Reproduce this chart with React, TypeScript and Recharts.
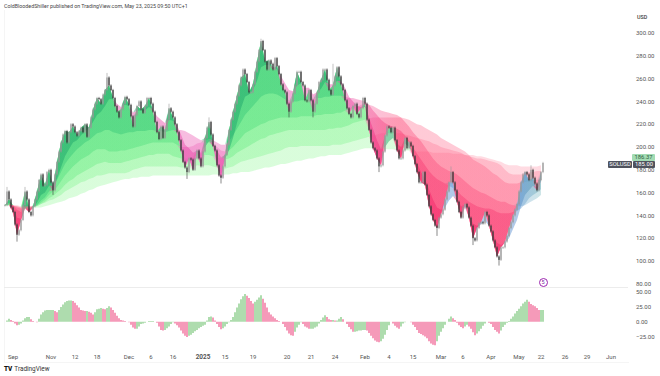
import React from 'react';
import { Area, Bar, Cell, ComposedChart, XAxis, YAxis } from 'recharts';

// closes, one every 2px of the picture, in USD
const closes = [
  149,161,154,147,143,132,123,127,136,149,
  161,154,143,140,148,154,161,171,176,166,
  167,178,180,169,162,176,187,196,204,211,
  214,204,213,220,218,213,210,214,217,213,
  220,209,217,226,233,238,243,242,238,246,
  250,261,254,250,243,236,231,226,233,238,
  244,242,237,227,218,228,236,240,233,230,
  236,243,243,238,231,222,213,207,218,208,
  215,224,234,231,226,220,213,206,197,187,
  182,178,190,189,180,190,197,190,183,196,
  208,217,222,211,201,197,184,175,173,183,
  193,202,215,224,231,238,245,254,261,268,
  264,257,248,248,255,266,275,285,293,285,
  275,268,276,273,268,278,271,264,255,250,
  248,238,231,240,247,254,266,266,257,254,
  241,240,250,241,231,238,248,257,259,268,
  268,259,250,246,254,262,270,262,255,250,
  241,234,229,226,236,238,229,226,234,243,
  238,224,215,204,199,197,190,183,184,196,
  210,218,217,213,217,206,197,190,190,197,
  208,199,204,201,192,185,178,169,169,178,
  167,158,148,141,136,131,129,138,141,145,
  154,161,169,178,169,162,152,143,138,147,
  150,147,138,131,120,118,129,133,134,133,
  143,140,131,126,118,112,104,101,112,112,
  117,122,129,134,140,145,150,161,169,176,
  178,176,171,180,173,168,162,171,178,186,
];

// longer wicks at the swing points: candle index -> price
const wickLows: Record<number, number> = { 6: 117, 24: 158, 91: 172, 108: 168, 142: 226, 154: 226, 187: 178, 216: 122, 234: 114, 247: 96 };
const wickHighs: Record<number, number> = { 1: 165, 10: 165, 51: 265, 82: 238, 102: 226, 128: 295, 164: 273, 223: 183, 263: 184 };

// moving averages, one every 4px, fastest first
const ema1 = [
  149,151,148,138,137, 146,145,146,151,158, 160,166,166,172,182, 192,198,204,206,210, 214,216,222,228,231,
  236,242,242,238,235, 237,236,230,232,232, 232,235,233,227,224, 221,224,223,219,211, 202,199,195,196,195,
  200,205,204,197,191, 190,197,208,221,234, 244,246,250,258,270, 272,272,270,268,262, 256,250,249,254,256,
  252,252,246,248,251, 257,255,255,258,258, 252,244,240,236,235, 235,226,216,206,198, 200,205,208,203,200,
  203,200,194,186,178, 172,163,154,147,145, 147,153,157,155,148, 147,141,133,131,132, 135,131,124,116,114,
  116,120,128,136,148, 158,162,166,165,170,
];
const ema2 = [
  149,150,149,145,143, 146,146,147,149,153, 156,161,165,171,178, 185,190,194,198,201, 204,206,209,212,213,
  215,215,213,212,211, 212,213,213,214,214, 214,215,215,214,214, 213,214,215,215,215, 214,212,210,208,206,
  206,207,206,204,202, 202,205,210,216,222, 228,232,236,240,244, 246,247,247,246,244, 242,240,240,240,241,
  241,242,242,243,243, 244,244,245,245,245, 244,243,243,242,241, 240,237,232,228,224, 221,219,218,216,214,
  210,206,200,194,189, 184,179,175,172,170, 168,166,164,162,158, 155,152,150,148,147, 146,146,145,143,142,
  142,142,143,144,146, 150,155,158,160,163,
];
const ema3 = [
  149,149,149,147,146, 147,147,148,149,151, 154,158,161,165,170, 175,179,183,186,189, 191,193,196,198,198,
  198,196,196,196,197, 197,198,199,200,201, 202,203,204,204,204, 204,204,204,202,200, 200,200,201,203,204,
  204,204,203,200,197, 196,197,200,204,208, 212,214,216,218,220, 221,223,224,225,226, 226,226,226,226,227,
  227,227,227,228,228, 229,229,229,230,230, 232,233,234,235,237, 238,237,236,234,232, 231,230,229,228,226,
  222,218,213,209,205, 200,195,190,186,183, 181,179,178,176,173, 170,167,164,162,160, 159,157,155,153,152,
  152,150,149,148,148, 149,151,153,155,158,
];
const ema4 = [
  149,149,149,148,147, 148,148,148,148,150, 152,155,157,160,163, 167,170,172,175,177, 179,181,183,185,186,
  187,186,186,186,186, 187,188,189,190,191, 192,193,193,194,194, 194,194,192,191,190, 190,190,191,192,193,
  193,193,192,191,190, 189,190,192,195,197, 199,201,203,205,207, 208,210,211,212,213, 214,215,215,215,215,
  215,215,215,215,215, 215,216,216,217,217, 218,219,221,222,223, 224,225,226,226,226, 226,226,226,226,226,
  225,224,222,220,219, 217,215,213,211,208, 206,204,202,200,198, 196,193,189,187,185, 183,180,177,175,172,
  169,168,168,168,169, 169,170,170,171,172,
];
const ema5 = [
  149,149,149,149,148, 148,148,148,148,150, 151,153,154,156,158, 161,163,165,167,169, 170,172,173,175,175,
  176,177,177,177,177, 177,178,180,181,182, 183,183,183,183,183, 183,183,183,183,182, 182,183,183,184,184,
  184,184,183,182,181, 181,182,183,185,187, 188,189,190,191,192, 193,194,195,196,197, 199,200,200,200,201,
  201,201,201,201,201, 201,201,202,202,202, 203,204,205,206,207, 208,209,210,211,212, 212,212,212,212,212,
  211,210,209,208,207, 206,205,203,202,200, 199,198,197,196,195, 193,192,191,190,190, 189,188,187,186,184,
  180,177,176,176,176, 177,178,178,179,179,
];
const ema6 = [
  149,149,148,148,147, 147,147,147,147,147, 148,149,150,151,152, 153,155,156,157,159, 160,162,163,165,166,
  167,168,169,170,171, 172,172,173,173,174, 174,174,175,175,175, 175,175,175,175,175, 175,175,175,175,175,
  175,175,176,176,176, 176,176,177,177,178, 178,178,179,180,181, 182,182,183,184,185, 185,186,187,188,188,
  189,190,190,191,192, 192,193,193,193,193, 194,195,196,197,198, 199,199,199,199,198, 198,198,198,198,197,
  197,197,197,196,196, 196,196,195,195,195, 195,195,194,194,194, 193,193,193,192,192, 191,190,189,188,187,
  185,184,184,184,183, 183,183,183,183,184,
];
const emas = [ema6, ema5, ema4, ema3, ema2, ema1];

// oscillator, one bar per candle
const oscillator = [
  0,2,5,3,1,-3,-6,-5,-3,2,
  6,8,8,4,1,0,-1,5,12,16,
  19,20,20,20,20,18,16,20,25,29,
  33,35,36,36,35,32,28,24,20,19,
  18,18,17,15,12,16,21,22,23,22,
  21,23,26,24,20,15,10,6,3,2,
  1,0,-1,-5,-10,-12,-12,-8,-4,-3,
  -2,0,1,1,1,0,-2,-8,-14,-15,
  -14,-11,-8,-4,-1,-3,-6,-10,-15,-20,
  -24,-26,-24,-22,-19,-16,-14,-11,-9,-7,
  -5,2,8,9,7,2,-4,-9,-13,-11,
  -8,-4,-1,3,8,16,24,31,38,43,
  47,44,40,35,31,34,37,41,45,39,
  32,24,16,12,9,6,3,1,0,-4,
  -9,-15,-20,-23,-24,-17,-10,-5,-1,-4,
  -8,-10,-12,-12,-12,-10,-8,-3,3,7,
  11,8,4,3,3,2,2,5,8,4,
  0,-4,-9,-13,-17,-17,-16,-15,-15,-14,
  -14,-15,-19,-24,-28,-32,-34,-35,-33,-29,
  -22,-14,-6,0,-3,-7,-10,-12,-8,-3,
  -1,0,0,-1,-5,-9,-14,-19,-21,-23,
  -25,-28,-33,-37,-39,-40,-33,-24,-17,-11,
  -5,0,5,9,6,3,-2,-6,-9,-11,
  -8,-5,-8,-12,-18,-23,-20,-16,-12,-7,
  -3,0,-2,-4,-9,-14,-17,-20,-15,-9,
  -5,-2,1,5,9,14,18,22,26,31,
  34,37,34,30,28,26,23,20,20,20,
];

const priceTicks = [80, 100, 120, 140, 160, 180, 200, 220, 240, 260, 280, 300];
const oscTicks = [-25, 0, 25, 50];
const timeLabels = ['Sep', 'Nov', '12', '18', 'Dec', '6', '16', '2025', '15', '19', '20', '21', '24', 'Feb', '4', '15', 'Mar', '6', 'Apr', 'May', '22', '26', '29', 'Jun'];
const timeSlots = [4, 23, 35, 46, 62, 73, 84, 99, 110, 124, 141, 153, 165, 180, 192, 204, 218, 229, 243, 257, 268, 280, 291, 303];

const FONT = 'Roboto, "Liberation Sans", sans-serif';
const SLOTS = 312;

const upGreen = ['#62f56a', '#58f06c', '#4ce66e', '#3cd872', '#2ac072', '#18a068'];
const upBlue = ['#a3c8ea', '#8fbae6', '#7dade2', '#6ca0dc', '#5c93d5', '#4e86cc'];
const upTeal = ['#a8e2cc', '#94d5c4', '#82c8bc', '#70b9b2', '#60aaa8', '#529b9c'];
const downRed = ['#ff6a88', '#ff5c80', '#ff4f78', '#fb3f72', '#f7306c', '#f22066'];
const downPink = ['#f78fd0', '#f582c9', '#f274c2', '#ee62b8', '#ea50ae', '#e640a4'];
const layerOpacity = [0.24, 0.26, 0.3, 0.34, 0.38, 0.44];

const priceRows = Array.from({ length: SLOTS }, (_, i) => {
  const row: Record<string, any> = { slot: i };
  if (i >= closes.length) return row;
  const close = closes[i];
  const open = i > 0 ? closes[i - 1] : close;
  row.open = open;
  row.close = close;
  row.wick = [wickLows[i] ?? Math.min(open, close) - 1, wickHighs[i] ?? Math.max(open, close) + 1];
  if (i % 2 === 0) {
    emas.forEach((ema, k) => {
      const e = ema[i / 2];
      row[`above${k}`] = [e, Math.max(close, e)];
      row[`below${k}`] = [Math.min(close, e), e];
    });
  }
  return row;
});

const oscRows = Array.from({ length: SLOTS }, (_, i) => ({ slot: i, value: oscillator[i] }));

const Candle = (props: any) => {
  const { x, y, width, height, payload } = props;
  if (payload.close === undefined || !height) return null;
  const [low, high] = payload.wick;
  const perUnit = height / (high - low);
  const top = y + (high - Math.max(payload.open, payload.close)) * perUnit;
  const bodyH = Math.max(Math.abs(payload.close - payload.open) * perUnit, 1);
  const color = payload.close >= payload.open ? '#989898' : '#3a3a3a';
  return (
    <g>
      <line x1={x + width / 2} x2={x + width / 2} y1={y} y2={y + height} stroke={color} strokeWidth={0.6} />
      <rect x={x + 0.4} y={top} width={width - 0.8} height={bodyH} fill={color} />
    </g>
  );
};

const TimeTick = (props: any) => {
  const { x, y, payload } = props;
  const label = timeLabels[timeSlots.indexOf(payload.value)];
  return (
    <text x={x} y={y + 3} textAnchor="middle" fontSize={label === '2025' ? 6.4 : 6} fontWeight={label === '2025' ? 700 : 400} fill="#555" fontFamily={FONT}>
      {label}
    </text>
  );
};

const tag = (left: number, top: number, width: number, bg: string, color: string, text: string) => (
  <div style={{ position: 'absolute', left, top, width, height: 6.5, lineHeight: '6.5px', background: bg, color, fontSize: 5.8, textAlign: 'center', borderRadius: 1 }}>
    {text}
  </div>
);

export default function App() {
  return (
    <div style={{ position: 'absolute', left: 0, top: 0, width: 660, height: 376, background: '#fff', overflow: 'hidden', fontFamily: FONT }}>
      <div style={{ position: 'absolute', left: 4, top: 3, fontSize: 5.3, color: '#444', whiteSpace: 'nowrap' }}>
        ColdBloodedShiller published on TradingView.com, May 23, 2025 09:50 UTC+1
      </div>
      <div style={{ position: 'absolute', left: 637, top: 14, fontSize: 5.4, color: '#444', fontWeight: 500 }}>USD</div>
      <div style={{ position: 'absolute', left: 4, top: 10, width: 624, height: 352, borderLeft: '1px solid #f5f5f5', borderBottom: '1px solid #f5f5f5' }} />
      <div style={{ position: 'absolute', left: 4, top: 287, width: 624, height: 1, background: '#ececec' }} />

      <div style={{ position: 'absolute', left: 0, top: 0 }}>
        <ComposedChart width={660} height={287} data={priceRows} margin={{ top: 10, right: 0, bottom: 0, left: 4 }} barCategoryGap={0}>
          <defs>
            {emas.map((_, k) => (
              <linearGradient key={`up${k}`} id={`up${k}`} gradientUnits="userSpaceOnUse" x1="4" y1="0" x2="628" y2="0">
                <stop offset="0.68" stopColor={upGreen[k]} />
                <stop offset="0.70" stopColor={upBlue[k]} />
                <stop offset="0.82" stopColor={upBlue[k]} />
                <stop offset="0.87" stopColor={upTeal[k]} />
              </linearGradient>
            ))}
            {emas.map((_, k) => (
              <linearGradient key={`down${k}`} id={`down${k}`} gradientUnits="userSpaceOnUse" x1="4" y1="0" x2="628" y2="0">
                <stop offset="0.05" stopColor={downRed[k]} />
                <stop offset="0.09" stopColor={downPink[k]} />
                <stop offset="0.54" stopColor={downPink[k]} />
                <stop offset="0.63" stopColor={downRed[k]} />
              </linearGradient>
            ))}
          </defs>
          <XAxis dataKey="slot" hide />
          <YAxis
            orientation="right"
            width={32}
            domain={[77.2, 320.2]}
            ticks={priceTicks}
            interval={0}
            tickFormatter={(v: number) => v.toFixed(2)}
            tick={{ fontSize: 6, fill: '#555', fontFamily: FONT }}
            tickLine={false}
            axisLine={false}
            tickSize={0}
            tickMargin={8}
          />
          {emas.map((_, k) => (
            <Area key={`a${k}`} dataKey={`above${k}`} fill={`url(#up${k})`} fillOpacity={layerOpacity[k]} stroke="none" connectNulls dot={false} activeDot={false} isAnimationActive={false} />
          ))}
          {emas.map((_, k) => (
            <Area key={`b${k}`} dataKey={`below${k}`} fill={`url(#down${k})`} fillOpacity={layerOpacity[k]} stroke="none" connectNulls dot={false} activeDot={false} isAnimationActive={false} />
          ))}
          <Bar dataKey="wick" shape={<Candle />} isAnimationActive={false} />
        </ComposedChart>
      </div>

      <div style={{ position: 'absolute', left: 0, top: 288 }}>
        <ComposedChart width={660} height={88} data={oscRows} margin={{ top: 0, right: 0, bottom: 14, left: 4 }} barCategoryGap={0}>
          <XAxis
            dataKey="slot"
            height={14}
            ticks={timeSlots}
            interval={0}
            tick={<TimeTick />}
            tickLine={false}
            axisLine={false}
          />
          <YAxis
            orientation="right"
            width={32}
            domain={[-44.6, 57.1]}
            ticks={oscTicks}
            interval={0}
            tickFormatter={(v: number) => v.toFixed(2).replace('-', '\u2212')}
            tick={{ fontSize: 6, fill: '#555', fontFamily: FONT }}
            tickLine={false}
            axisLine={false}
            tickSize={0}
            tickMargin={8}
          />
          <Bar dataKey="value" isAnimationActive={false}>
            {oscRows.map((r, i) => (
              <Cell key={i} fill={i > 0 && (r.value ?? 0) >= (oscRows[i - 1].value ?? 0) ? '#aedcae' : '#f59ab9'} />
            ))}
          </Bar>
        </ComposedChart>
      </div>

      {tag(632, 154, 23, '#a3dcb4', '#2f5f3f', '186.37')}
      {tag(608, 161, 24, '#50535e', '#fff', 'SOLUSD')}
      {tag(633, 161, 22, '#50535e', '#fff', '185.00')}

      <div style={{ position: 'absolute', left: 538.5, top: 278, width: 7, height: 7, border: '1px solid #9c27b0', borderRadius: '50%', color: '#7b1fa2', fontSize: 5.5, lineHeight: '7px', textAlign: 'center' }}>5</div>

      <div style={{ position: 'absolute', left: 4, top: 365, fontSize: 6.4, color: '#333', whiteSpace: 'nowrap' }}>
        <span style={{ fontWeight: 900, color: '#111', marginRight: 2 }}>TV</span>TradingView
      </div>
    </div>
  );
}
